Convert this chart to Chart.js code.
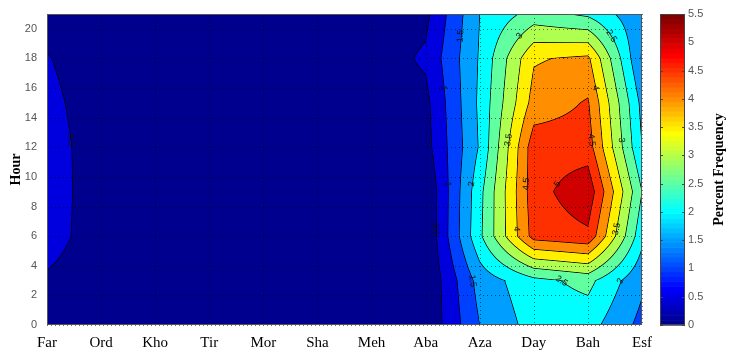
<!DOCTYPE html>
<html>
<head>
<meta charset="utf-8">
<script src="https://cdn.jsdelivr.net/npm/chart.js@4.4.0/dist/chart.umd.min.js"></script>
<style>
  html, body { margin: 0; padding: 0; background: #fff; }
</style>
</head>
<body>
<canvas id="contour" width="729" height="353"></canvas>
<script>
const months = ["Far", "Ord", "Kho", "Tir", "Mor", "Sha", "Meh", "Aba", "Aza", "Day", "Bah", "Esf"];
const hours = [0, 3, 6, 9, 12, 15, 18, 21];

// percent frequency per month, read at the hours above
const far = [0.32, 0.45, 0.66, 0.68, 0.67, 0.60, 0.52, 0.38];
const ord = [0.28, 0.30, 0.30, 0.30, 0.30, 0.30, 0.28, 0.26];
const kho = [0.22, 0.24, 0.25, 0.26, 0.26, 0.25, 0.24, 0.22];
const tir = [0.18, 0.20, 0.20, 0.21, 0.21, 0.20, 0.20, 0.18];
const mor = [0.15, 0.17, 0.17, 0.18, 0.18, 0.17, 0.17, 0.15];
const sha = [0.15, 0.17, 0.18, 0.18, 0.18, 0.18, 0.18, 0.16];
const meh = [0.18, 0.20, 0.20, 0.22, 0.22, 0.22, 0.22, 0.22];
const aba = [0.06, 0.02, 0.02, 0.02, 0.30, 0.36, 0.58, 0.37];
const aza = [1.50, 1.70, 2.40, 2.35, 2.05, 2.10, 2.05, 2.00];
const day = [2.20, 2.35, 4.70, 4.80, 4.80, 4.20, 3.95, 2.70];
const bah = [2.20, 2.65, 4.90, 5.35, 4.75, 4.55, 4.10, 2.40];
const esf = [1.35, 1.60, 2.15, 2.50, 2.00, 1.85, 1.45, 1.60];

const hourTicks = [0, 2, 4, 6, 8, 10, 12, 14, 16, 18, 20];
const freqTicks = [0, 0.5, 1, 1.5, 2, 2.5, 3, 3.5, 4, 4.5, 5, 5.5];

const values = [far, ord, kho, tir, mor, sha, meh, aba, aza, day, bah, esf];
const points = [];
months.forEach((m, i) => hours.forEach((h, j) => points.push({x: i, y: h, v: values[i][j]})));

// matlab style jet colormap
function jet(m) {
  const n = Math.ceil(m / 4);
  const u = [];
  for (let k = 1; k <= n; k++) u.push(k / n);
  for (let k = 1; k < n; k++) u.push(1);
  for (let k = n; k >= 1; k--) u.push(k / n);
  const g0 = Math.ceil(n / 2) - (m % 4 === 1 ? 1 : 0);
  const cmap = [];
  for (let k = 0; k < m; k++) cmap.push([0, 0, 0]);
  u.forEach((val, p) => {
    const g = g0 + p + 1, r = g + n, b = g - n;
    if (r >= 1 && r <= m) cmap[r - 1][0] = val;
    if (g >= 1 && g <= m) cmap[g - 1][1] = val;
    if (b >= 1 && b <= m) cmap[b - 1][2] = val;
  });
  return cmap.map(c => c.map(q => Math.round(q * 255)));
}
const jet64 = jet(64);
const step = freqTicks[1] - freqTicks[0];
const vmax = freqTicks[freqTicks.length - 1];
const nBands = Math.round(vmax / step);
const bandColors = [];
for (let b = 0; b < nBands; b++) bandColors.push(jet64[Math.floor(b * step / vmax * 64)]);

const hiddenTicks = len => ({
  display: true, drawOnChartArea: false, drawTicks: true,
  tickLength: len, color: "rgba(0,0,0,0)", tickColor: "rgba(0,0,0,0)"
});

const contourPlugin = {
  id: "contourFill",
  beforeDraw(chart) {
    const {ctx, chartArea: a, scales} = chart;
    const xs = scales.x, ys = scales.y, cs = scales.y2;
    const pts = chart.data.datasets[0].data;
    const hs = [...new Set(pts.map(p => p.y))].sort((p, q) => p - q);
    const nx = Math.max(...pts.map(p => p.x)) + 1;
    const z = [];
    for (let i = 0; i < nx; i++) z.push([]);
    pts.forEach(p => { z[p.x][hs.indexOf(p.y)] = p.v; });

    const x0 = Math.round(a.left), y0 = Math.round(a.top);
    const w = Math.round(a.right) - x0, h = Math.round(a.bottom) - y0;
    const val = new Float32Array(w * h);
    for (let py = 0; py < h; py++) {
      let hv = ys.getValueForPixel(y0 + py + 0.5);
      hv = Math.max(hs[0], Math.min(hs[hs.length - 1], hv));
      let j = 0;
      while (j < hs.length - 2 && hv > hs[j + 1]) j++;
      const t = (hv - hs[j]) / (hs[j + 1] - hs[j]);
      for (let px = 0; px < w; px++) {
        let mv = xs.getValueForPixel(x0 + px + 0.5);
        mv = Math.max(0, Math.min(nx - 1, mv));
        const i = Math.min(Math.floor(mv), nx - 2);
        const s = mv - i;
        val[py * w + px] = (1 - s) * (1 - t) * z[i][j] + s * (1 - t) * z[i + 1][j] +
          (1 - s) * t * z[i][j + 1] + s * t * z[i + 1][j + 1];
      }
    }
    const grad = (px, py) => [
      (val[py * w + Math.min(w - 1, px + 1)] - val[py * w + Math.max(0, px - 1)]) / 2,
      (val[Math.min(h - 1, py + 1) * w + px] - val[Math.max(0, py - 1) * w + px]) / 2
    ];
    const img = ctx.createImageData(w, h);
    for (let py = 0; py < h; py++) {
      for (let px = 0; px < w; px++) {
        const k = py * w + px;
        const v = val[k];
        const band = Math.max(0, Math.min(nBands - 1, Math.floor(v / step)));
        let [r, g, b] = bandColors[band];
        const [gx, gy] = grad(px, py);
        const gr = Math.hypot(gx, gy);
        const L = Math.round(v / step) * step;
        if (L > 0 && L < vmax && gr > 1e-6) {
          const d = Math.abs(v - L) / gr;
          const al = Math.max(0, 1 - d / 0.8) * 0.9;
          r *= 1 - al; g *= 1 - al; b *= 1 - al;
        }
        img.data[k * 4] = r;
        img.data[k * 4 + 1] = g;
        img.data[k * 4 + 2] = b;
        img.data[k * 4 + 3] = 255;
      }
    }
    ctx.putImageData(img, x0, y0);

    // dotted grid
    ctx.save();
    ctx.strokeStyle = "rgba(0,0,0,0.55)";
    ctx.lineWidth = 1;
    ctx.setLineDash([1, 3]);
    xs.ticks.forEach(tk => {
      const px = Math.round(xs.getPixelForValue(tk.value)) + 0.5;
      ctx.beginPath(); ctx.moveTo(px, a.top); ctx.lineTo(px, a.bottom); ctx.stroke();
    });
    ys.ticks.forEach(tk => {
      const py = Math.round(ys.getPixelForValue(tk.value)) + 0.5;
      ctx.beginPath(); ctx.moveTo(a.left, py); ctx.lineTo(a.right, py); ctx.stroke();
    });
    ctx.setLineDash([]);

    // contour labels, two per level, picked along a few hour rows
    const labelRows = [19.5, 12.5, 6.5, 16, 9.5, 3];
    const placed = [];
    const free = (px, py) => placed.every(p => Math.hypot(p.px - px, p.py - py) > 18);
    ctx.fillStyle = "#111";
    ctx.font = "9px 'Liberation Sans'";
    ctx.textAlign = "center";
    ctx.textBaseline = "middle";
    for (let b = 1; b < nBands; b++) {
      const L = b * step;
      const found = [];
      for (let r = 0; r < labelRows.length && found.length < 2; r++) {
        const py = Math.round(ys.getPixelForValue(labelRows[(b + r) % labelRows.length])) - y0;
        const cross = [];
        for (let px = 6; px < w - 7; px++) {
          const a1 = val[py * w + px] - L, a2 = val[py * w + px + 1] - L;
          if (a1 * a2 < 0) cross.push(px);
        }
        if (found.length) cross.reverse();
        const px = cross.find(c => free(c, py));
        if (px === undefined) continue;
        const f = {px, py};
        found.push(f);
        placed.push(f);
      }
      found.forEach(f => {
        const [gx, gy] = grad(f.px, f.py);
        let ang = Math.atan2(gy, gx) + Math.PI / 2;
        if (ang > Math.PI / 2) ang -= Math.PI;
        if (ang < -Math.PI / 2) ang += Math.PI;
        ctx.save();
        ctx.translate(x0 + f.px + 0.5, y0 + f.py);
        ctx.rotate(ang);
        ctx.fillText(String(L), 0, 0);
        ctx.restore();
      });
    }

    ctx.strokeStyle = "#555";
    ctx.strokeRect(x0 + 0.5, y0 + 0.5, w - 1, h - 1);

    // colour bar
    const cbL = Math.round(cs.left) + 18, cbW = 25;
    for (let k = 0; k < 64; k++) {
      const yTop = cs.getPixelForValue((k + 1) * vmax / 64);
      const yBot = cs.getPixelForValue(k * vmax / 64);
      const c = jet64[k];
      ctx.fillStyle = "rgb(" + c[0] + "," + c[1] + "," + c[2] + ")";
      ctx.fillRect(cbL, yTop, cbW, yBot - yTop + 0.6);
    }
    ctx.strokeStyle = "#444";
    ctx.strokeRect(cbL + 0.5, Math.round(cs.top) + 0.5, cbW - 1, Math.round(cs.bottom - cs.top) - 1);
    cs.ticks.forEach(tk => {
      const py = Math.round(cs.getPixelForValue(tk.value)) + 0.5;
      ctx.beginPath();
      ctx.moveTo(cbL, py); ctx.lineTo(cbL + 3, py);
      ctx.moveTo(cbL + cbW - 3, py); ctx.lineTo(cbL + cbW, py);
      ctx.stroke();
    });
    ctx.restore();
  },
  afterDraw(chart) {
    const {ctx, scales: {y2}} = chart;
    ctx.save();
    ctx.translate(719, (y2.top + y2.bottom) / 2);
    ctx.rotate(-Math.PI / 2);
    ctx.textAlign = "center";
    ctx.textBaseline = "middle";
    ctx.fillStyle = "#000";
    ctx.font = "bold 14px 'Liberation Serif'";
    ctx.fillText("Percent Frequency", 0, 0);
    ctx.restore();
  }
};

new Chart(document.getElementById("contour"), {
  type: "scatter",
  data: {
    datasets: [{
      label: "Percent Frequency",
      data: points,
      pointRadius: 0,
      pointHoverRadius: 0,
      yAxisID: "y"
    }]
  },
  options: {
    responsive: false,
    animation: false,
    events: [],
    layout: { padding: { top: 14, left: 0, right: 0, bottom: 0 }, autoPadding: false },
    plugins: { legend: { display: false }, tooltip: { enabled: false } },
    scales: {
      x: {
        type: "linear",
        min: 0,
        max: months.length - 1,
        afterBuildTicks: s => { s.ticks = months.map((m, i) => ({value: i})); },
        afterFit: s => { s.height = 28; },
        grid: hiddenTicks(9),
        border: { display: false },
        ticks: {
          autoSkip: false,
          maxRotation: 0,
          padding: 0,
          color: "#000",
          font: { family: "'Liberation Serif'", size: 15 },
          callback: v => months[v]
        }
      },
      y: {
        type: "linear",
        position: "left",
        min: hours[0],
        max: hours[hours.length - 1],
        afterBuildTicks: s => { s.ticks = hourTicks.map(v => ({value: v})); },
        afterFit: s => { s.width = 47; },
        grid: hiddenTicks(8),
        border: { display: false },
        title: {
          display: true,
          text: "Hour",
          color: "#000",
          font: { family: "'Liberation Serif'", size: 14, weight: "bold" },
          padding: { top: 8, bottom: 0 }
        },
        ticks: {
          padding: 2,
          color: "#555",
          font: { family: "'Liberation Sans'", size: 11 },
          callback: v => String(v)
        }
      },
      y2: {
        type: "linear",
        position: "right",
        min: freqTicks[0],
        max: freqTicks[freqTicks.length - 1],
        afterBuildTicks: s => { s.ticks = freqTicks.map(v => ({value: v})); },
        afterFit: s => { s.width = 87; },
        grid: hiddenTicks(44),
        border: { display: false },
        ticks: {
          padding: 2,
          color: "#555",
          font: { family: "'Liberation Sans'", size: 11 },
          callback: v => String(v)
        }
      }
    }
  },
  plugins: [contourPlugin]
});
</script>
</body>
</html>
